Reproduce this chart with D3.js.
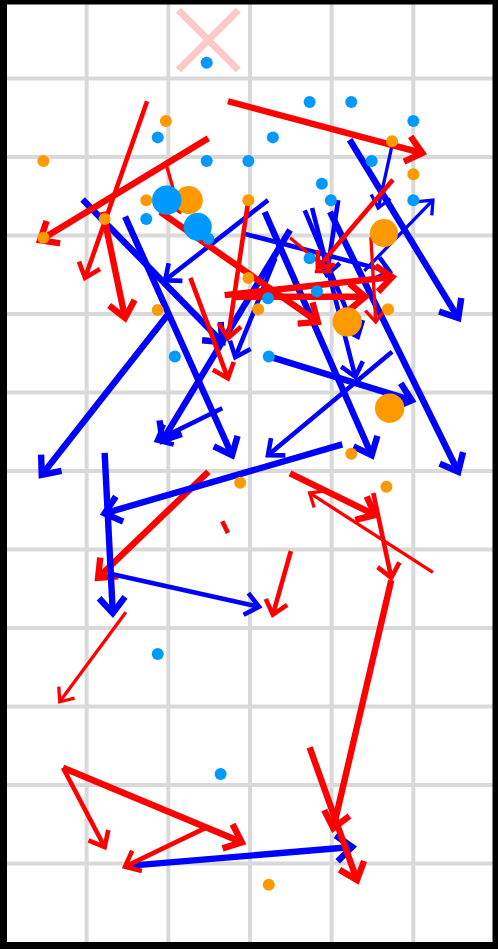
<!DOCTYPE html>
<html><head><meta charset="utf-8">
<script src="https://cdn.jsdelivr.net/npm/d3@7"></script>
<style>html,body{margin:0;padding:0;background:#fff;overflow:hidden}</style>
</head><body>
<svg id="chart" width="498" height="950"></svg>
<script>
// grid: 6 columns x 12 rows
const gridCols = [1, 2, 3, 4, 5];
const gridRows = [1, 2, 3, 4, 5, 6, 7, 8, 9, 10, 11];

// arrows: [xStart, yStart, xEnd, yEnd, weight]
const redArrowsFirst = [
  [2.49, 6.01, 1.14, 7.36, 3]
];
const redArrows = [
  [2.73, 1.29, 5.11, 1.95, 3],
  [2.49, 1.76, 0.43, 3.06, 3],
  [1.74, 1.29, 0.98, 3.54, 2],
  [1.20, 2.70, 1.47, 4.05, 3],
  [1.97, 2.08, 2.14, 2.70, 1],
  [1.90, 2.70, 3.83, 4.10, 3],
  [2.98, 2.55, 2.73, 4.31, 2],
  [2.27, 3.54, 2.73, 4.82, 2],
  [2.69, 3.76, 4.74, 3.53, 3],
  [2.78, 3.78, 4.41, 3.78, 3],
  [3.49, 3.03, 3.98, 3.46, 1],
  [4.75, 2.29, 3.83, 3.41, 2],
  [4.48, 3.02, 4.54, 4.10, 1],
  [2.66, 6.64, 2.73, 6.79, 2],
  [3.50, 7.02, 3.28, 7.83, 2],
  [3.49, 6.03, 4.53, 6.56, 3],
  [5.24, 7.29, 3.73, 6.28, 1],
  [4.51, 6.28, 4.73, 7.36, 2],
  [4.73, 7.39, 4.02, 10.55, 3],
  [3.73, 9.52, 4.31, 11.21, 3],
  [1.48, 7.80, 0.67, 8.94, 1],
  [0.71, 9.78, 1.22, 10.79, 2],
  [0.71, 9.78, 2.90, 10.73, 3],
  [2.45, 10.55, 1.47, 11.04, 2]
];
const blueArrows = [
  [4.22, 1.78, 5.55, 4.05, 3],
  [4.74, 1.85, 4.57, 2.65, 1],
  [0.95, 2.54, 2.66, 4.36, 3],
  [1.47, 2.76, 2.78, 5.80, 3],
  [3.22, 2.55, 1.96, 3.57, 2],
  [2.00, 4.00, 0.45, 6.05, 3],
  [2.66, 5.20, 1.86, 5.61, 2],
  [3.49, 2.93, 1.93, 5.61, 3],
  [3.31, 3.29, 2.82, 4.55, 2],
  [3.18, 2.70, 4.49, 5.80, 3],
  [3.98, 2.70, 5.55, 6.01, 3],
  [3.76, 2.65, 4.29, 4.80, 2],
  [3.67, 2.68, 4.32, 4.29, 2],
  [3.23, 4.54, 4.98, 5.10, 3],
  [4.74, 4.48, 3.22, 5.80, 2],
  [4.13, 5.66, 1.22, 6.54, 3],
  [1.22, 5.77, 1.32, 7.81, 3],
  [1.29, 7.31, 3.11, 7.73, 2],
  [1.51, 11.03, 4.25, 10.79, 3],
  [4.40, 3.45, 5.24, 2.55, 1],
  [2.94, 2.98, 4.71, 3.46, 2],
  [4.08, 2.55, 3.94, 3.50, 2]
];

// dots: [x, y, size]
const blueDots = [
  [2.47, 0.80, 1], [3.73, 1.30, 1], [4.24, 1.30, 1], [1.87, 1.75, 1], [3.28, 1.75, 1],
  [5.00, 1.54, 1], [2.47, 2.05, 1], [2.98, 2.05, 1], [4.49, 2.05, 1], [3.88, 2.34, 1],
  [3.99, 2.55, 1], [5.00, 2.55, 1], [1.73, 2.79, 1], [2.49, 3.04, 1], [3.73, 3.29, 1],
  [3.82, 3.71, 1], [3.22, 3.80, 1], [2.08, 4.54, 1], [3.23, 4.54, 1], [1.87, 8.33, 1],
  [2.64, 9.86, 1],
  [1.98, 2.55, 6], [2.36, 2.89, 5.5]
];
const orangeDots = [
  [1.97, 1.54, 1], [0.47, 2.05, 1], [4.74, 1.80, 1], [5.00, 2.22, 1], [1.73, 2.55, 1],
  [2.98, 2.55, 1], [1.22, 2.79, 1], [0.47, 3.03, 1], [2.98, 3.54, 1], [1.87, 3.95, 1],
  [3.10, 3.94, 1], [4.69, 3.94, 1], [4.24, 5.78, 1], [2.88, 6.15, 1], [4.67, 6.20, 1],
  [3.23, 11.27, 1],
  [2.25, 2.55, 5.5], [4.64, 2.97, 5.5], [4.19, 4.10, 6], [4.71, 5.20, 6]
];
const crossMarks = [[2.49, 0.51]];

const svg = d3.select('#chart');
const x = d3.scaleLinear().domain([0, 6]).range([5, 495]);
const y = d3.scaleLinear().domain([0, 12]).range([0, 942]);
const strokeW = d3.scaleOrdinal().domain([1, 2, 3]).range([3.3, 4.6, 6.4]);
const rScale = d3.scaleSqrt().domain([0, 1]).range([0, 6]);

// grid
const grid = svg.append('g');
grid.selectAll('.gv').data(gridCols).enter().append('line')
  .attr('x1', d => x(d)).attr('x2', d => x(d)).attr('y1', y(0)).attr('y2', y(12))
  .attr('stroke', '#d9d9d9').attr('stroke-width', 4);
grid.selectAll('.gh').data(gridRows).enter().append('line')
  .attr('x1', x(0)).attr('x2', x(6)).attr('y1', d => y(d)).attr('y2', d => y(d))
  .attr('stroke', '#d9d9d9').attr('stroke-width', 4);

// cross marker
const cs = 0.366;
crossMarks.forEach(c => {
  [[-1, -1, 1, 1], [-1, 1, 1, -1]].forEach(s => {
    svg.append('line')
      .attr('x1', x(c[0] + s[0] * cs)).attr('y1', y(c[1] + s[1] * 0.38))
      .attr('x2', x(c[0] + s[2] * cs)).attr('y2', y(c[1] + s[3] * 0.38))
      .attr('stroke', '#ffc8c8').attr('stroke-width', 7);
  });
});

function drawArrows(data, color) {
  const g = svg.append('g');
  const items = g.selectAll(null).data(data).enter().append('g');
  items.append('line')
    .attr('x1', d => x(d[0])).attr('y1', d => y(d[1]))
    .attr('x2', d => x(d[2])).attr('y2', d => y(d[3]))
    .attr('stroke', color).attr('stroke-width', d => strokeW(d[4]));
  items.filter(d => Math.hypot(x(d[2]) - x(d[0]), y(d[3]) - y(d[1])) > 25)
    .append('path')
    .attr('d', d => {
      const x1 = x(d[0]), y1 = y(d[1]), x2 = x(d[2]), y2 = y(d[3]);
      const a = Math.atan2(y2 - y1, x2 - x1);
      const w = strokeW(d[4]);
      const L = 10 + 1.6 * w;
      const ang = 40 * Math.PI / 180;
      const p1 = [x2 - L * Math.cos(a - ang), y2 - L * Math.sin(a - ang)];
      const p2 = [x2 - L * Math.cos(a + ang), y2 - L * Math.sin(a + ang)];
      return `M${p1[0]},${p1[1]}L${x2},${y2}L${p2[0]},${p2[1]}`;
    })
    .attr('fill', 'none').attr('stroke', color)
    .attr('stroke-width', d => strokeW(d[4]))
    .attr('stroke-linejoin', 'miter');
}
drawArrows(redArrowsFirst, '#ff0000');
drawArrows(blueArrows, '#0000ff');
drawArrows(redArrows, '#ff0000');

function drawDots(data, color) {
  svg.append('g').selectAll('circle').data(data).enter().append('circle')
    .attr('cx', d => x(d[0])).attr('cy', d => y(d[1]))
    .attr('r', d => rScale(d[2])).attr('fill', color);
}
drawDots(orangeDots.filter(d => d[2] > 1), '#ff9900');
drawDots(blueDots.filter(d => d[2] > 1), '#0099ff');
drawDots(orangeDots.filter(d => d[2] === 1), '#ff9900');
drawDots(blueDots.filter(d => d[2] === 1), '#0099ff');

// frame
svg.append('rect').attr('x', 3.5).attr('y', 1).attr('width', 492.5).attr('height', 944.5)
  .attr('fill', 'none').attr('stroke', '#000').attr('stroke-width', 7);
</script>
</body></html>
